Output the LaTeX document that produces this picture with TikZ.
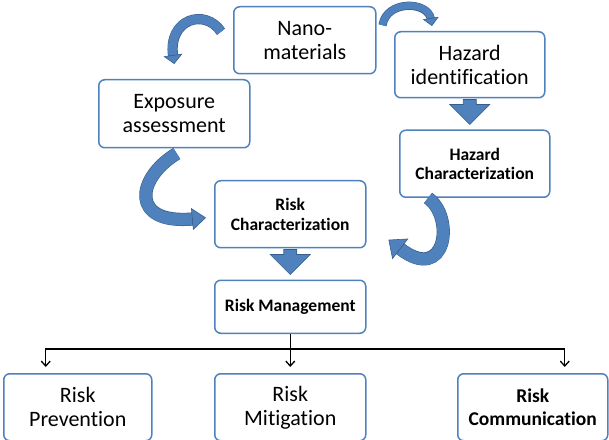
\documentclass[tikz,border=0pt]{standalone}
\usepackage{fontspec}
\setmainfont{Carlito}[Ligatures=NoCommon]
\usetikzlibrary{positioning, arrows.meta, calc}
\definecolor{boxblue}{HTML}{4F81BD}
\definecolor{arrowblue}{HTML}{4F81BD}
\definecolor{arrowline}{HTML}{385D8A}

\begin{document}
\begin{tikzpicture}[x=1pt, y=1pt,
    box/.style={draw=boxblue, fill=white, line width=1.5pt, rounded corners=6pt,
                align=center, anchor=north west, inner sep=2pt},
    big/.style={font=\fontsize{22}{24}\selectfont},
    bold/.style={font=\fontsize{17.5}{19.5}\selectfont\bfseries},
    link/.style={-{Straight Barb[length=5pt, width=9pt]}, line width=1.3pt, shorten >=6pt},
    curved/.style n args={3}{draw=arrowblue, line width=#1,
        -{Triangle[length=#2, width=#3, line width=0.6pt, color=arrowline, fill=arrowblue]},
        preaction={draw=arrowline, line width=#1+1.2pt, -, shorten >=#2-1pt}},
    blockarrow/.style={fill=arrowblue, draw=arrowline, line width=0.6pt},
]
\useasboundingbox (0,0) rectangle (609,439);

% Top row
\node[box, big, minimum width=142pt, minimum height=67pt] (nano) at (233,433) {Nano-\\materials};
\node[box, big, minimum width=150pt, minimum height=66pt] (hazid) at (394,408) {Hazard\\identification};

% Exposure assessment
\node[box, big, minimum width=151pt, minimum height=68pt] (expo) at (98,360) {Exposure\\assessment};

% Hazard characterization
\node[box, bold, minimum width=150pt, minimum height=67pt]
    (hazchar) at ([xshift=5pt, yshift=-31pt]hazid.south west) {Hazard\\Characterization};

% Risk characterization and management
\node[box, bold, minimum width=151pt, minimum height=67pt] (riskchar) at (214,259) {Risk\\Characterization};
\node[box, bold, minimum width=151pt, minimum height=53pt]
    (mgmt) at ([yshift=-31pt]riskchar.south west) {Risk Management};

% Bottom row
\node[box, big, minimum width=151pt, minimum height=67pt]
    (mitig) at ([yshift=-39pt]mgmt.south west) {Risk\\Mitigation};
\node[box, big, minimum width=148pt, minimum height=67pt]
    (prev) at ([xshift=-211pt]mitig.north west) {Risk\\Prevention};
\node[box, font=\fontsize{19.5}{23}\selectfont\bfseries, minimum width=150pt, minimum height=67pt]
    (comm) at ([xshift=243pt]mitig.north west) {Risk\\Communication};

% Curved arrows
\draw[curved={9pt}{9pt}{19pt}] ([xshift=-12pt, yshift=8.5pt]nano.west)
    .. controls +(-16,24) and +(-6.5,45) .. ([yshift=15pt]expo.north);
\draw[curved={7pt}{8pt}{16pt}] ([xshift=6pt, yshift=15pt]nano.east)
    .. controls +(4,25.5) and +(-4,25) .. ([xshift=38pt, yshift=5pt]hazid.north west);
\draw[curved={12pt}{14pt}{22pt}] ([xshift=2.5pt, yshift=-5pt]expo.south)
    .. controls +(-41,-25) and +(-76,-7) .. ([xshift=-8pt, yshift=-3.5pt]riskchar.west);
\draw[curved={12pt}{15pt}{26pt}] ([xshift=29pt]hazchar.south west)
    .. controls +(27,-19) and +(58,-45) .. ([xshift=22pt, yshift=-25.5pt]riskchar.east);

% Block arrows
\foreach \src in {hazid, riskchar} {
    \draw[blockarrow] ([xshift=-6.5pt, yshift=-1pt]\src.south) -- ++(13,0) -- ++(0,-5)
        -- ++(13.5,0) -- ++(-20,-20) -- ++(-20,20) -- ++(13.5,0) -- cycle;
}

% Risk management to the three branches
\coordinate (bus) at ([yshift=-15pt]mgmt.south);
\draw[line width=1.3pt] (mgmt.south) -- (bus);
\draw[link] (bus) -| ([xshift=-32pt]prev.north);
\draw[link] (bus) -| ([xshift=32pt]comm.north);
\draw[link] (bus) -- (mitig.north);

\end{tikzpicture}
\end{document}
